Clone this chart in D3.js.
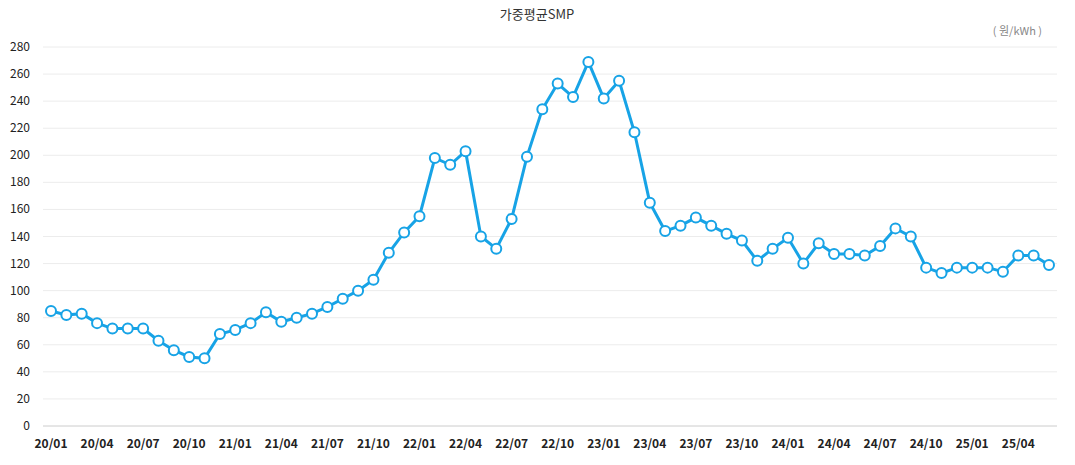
<!DOCTYPE html>
<html><head><meta charset="utf-8">
<script src="https://cdn.jsdelivr.net/npm/d3@7"></script>
<style>body{margin:0;background:#fff;font-family:"Noto Sans CJK KR","Noto Sans",sans-serif}</style>
</head><body><svg id="c" width="1075" height="465"></svg>
<script>
const startYear = 2020, startMonth = 1;
const values = [85,82,83,76,72,72,72,63,56,51,50,68,
71,76,84,77,80,83,88,94,100,108,128,143,
155,198,193,203,140,131,153,199,234,253,243,269,
242,255,217,165,144,148,154,148,142,137,122,131,
139,120,135,127,127,126,133,146,140,117,113,117,
117,117,114,126,126,119];
const yTicks = [0,20,40,60,80,100,120,140,160,180,200,220,240,260,280];
const labels = values.map((v,i)=>{const m=(startMonth-1+i)%12+1, y=startYear+Math.floor((startMonth-1+i)/12);return String(y%100).padStart(2,"0")+"/"+String(m).padStart(2,"0");});
const svg=d3.select("#c");
const x=d3.scaleLinear().domain([0,values.length-1]).range([51,1049]);
const y=d3.scaleLinear().domain([0,280]).range([426,47]);
svg.append("g").selectAll("line").data(yTicks).join("line")
 .attr("x1",43).attr("x2",1057).attr("y1",d=>y(d)).attr("y2",d=>y(d))
 .attr("stroke",d=>d===0?"#ccc":"#ececec");
svg.append("g").selectAll("text").data(yTicks).join("text")
 .attr("x",30).attr("y",d=>y(d)+4).attr("text-anchor","end").attr("font-size",12).attr("fill","#222").text(d=>d);
svg.append("g").selectAll("text").data(labels.map((l,i)=>[l,i]).filter(d=>d[1]%3===0)).join("text")
 .attr("x",d=>x(d[1])).attr("y",448).attr("text-anchor","middle").attr("font-size",12).attr("font-weight","bold").attr("fill","#222").text(d=>d[0]);
svg.append("text").attr("x",537).attr("y",19).attr("text-anchor","middle").attr("font-size",13).attr("fill","#333").text("가중평균SMP");
svg.append("text").attr("x",1042).attr("y",35).attr("text-anchor","end").attr("font-size",11).attr("fill","#888").text("( 원/kWh )");
svg.append("path").datum(values).attr("fill","none").attr("stroke","#17a3e6").attr("stroke-width",3)
 .attr("d",d3.line().x((d,i)=>x(i)).y(d=>y(d)));
svg.append("g").selectAll("circle").data(values).join("circle")
 .attr("cx",(d,i)=>x(i)).attr("cy",d=>y(d)).attr("r",5).attr("fill","#fff").attr("stroke","#17a3e6").attr("stroke-width",2);
</script></body></html>
